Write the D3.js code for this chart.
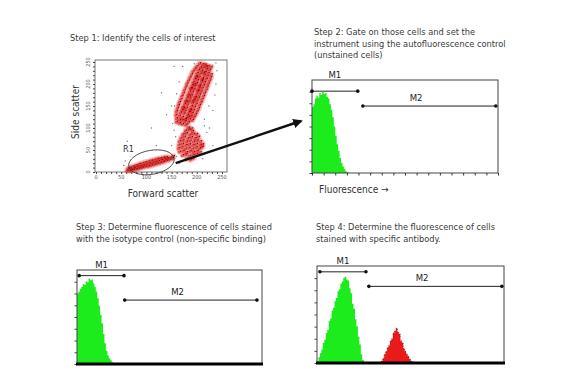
<!DOCTYPE html>
<html>
<head>
<meta charset="utf-8">
<script src="https://cdn.jsdelivr.net/npm/d3@7"></script>
<style>
  body { margin: 0; background: #fff; }
  svg { display: block; }
  text { font-family: "DejaVu Sans Condensed", "DejaVu Sans", sans-serif; }
</style>
</head>
<body>
<svg width="565" height="388"></svg>
<script>
// ---- data ----
var stepTitles = [
  ["Step 1: Identify the cells of interest"],
  ["Step 2: Gate on those cells and set the", "instrument using the autofluorescence control", "(unstained cells)"],
  ["Step 3: Determine fluorescence of cells stained", "with the isotype control (non-specific binding)"],
  ["Step 4: Determine the fluorescence of cells", "stained with specific antibody."]
];

var scatterTicks = [0, 50, 100, 150, 200, 250];

// forward scatter / side scatter events
var cellsR1 = [[62,3],[64,8],[68,3],[68,10],[70,6],[74,5],[74,13],[76,9],[80,6],[80,15],[82,11],[86,8],[86,18],[88,13],
  [92,10],[92,20],[94,15],[98,12],[98,22],[100,17],[104,13],[104,24],[106,19],[110,15],[110,26],[112,21],[116,17],[116,28],
  [118,23],[122,19],[122,30],[124,25],[128,21],[128,31],[130,27],[134,23],[134,33],[136,29],[140,26],[140,34],[142,31],
  [146,28],[148,33],[152,31],[154,36]];
var cellsB = [[180,30],[188,28],[194,32],[172,38],[179,40],[186,37],[193,39],[200,41],[166,46],[173,48],[180,45],[187,47],
  [194,46],[201,48],[207,45],[164,54],[171,56],[178,53],[185,55],[192,53],[199,56],[206,54],[211,57],[165,62],[172,64],
  [179,61],[186,63],[193,61],[200,64],[207,62],[212,63],[166,70],[173,72],[180,69],[187,71],[194,69],[201,72],[208,70],
  [169,78],[176,80],[183,77],[190,79],[197,77],[204,80],[173,86],[180,88],[187,85],[194,87],[200,86],[178,94],[185,96],
  [192,93],[184,101],[190,99]];
var cellsC = [[160,114],[166,111],[172,109],[179,107],[160,122],[166,119],[171,118],[177,115],[184,113],
  [159,130],[166,128],[172,125],[179,122],[186,120],[192,118],[160,138],[168,135],[175,133],[182,130],[189,127],[195,125],
  [162,145],[171,141],[177,139],[185,136],[191,134],[198,131],[164,152],[173,148],[180,146],[187,143],[194,141],[201,138],
  [166,159],[176,155],[182,153],[190,150],[196,148],[204,145],[169,166],[178,162],[185,160],[192,157],[199,155],[206,152],
  [171,173],[181,169],[187,167],[195,164],[201,162],[209,159],[174,180],[183,176],[190,174],[197,171],[204,169],[211,166],
  [176,187],[186,183],[192,181],[200,178],[206,176],[214,173],[179,194],[188,190],[195,188],[202,185],[209,183],[216,180],
  [181,201],[191,197],[197,195],[205,192],[211,190],[219,187],[184,208],[193,204],[200,202],[207,199],[214,197],[221,194],
  [187,215],[196,211],[202,209],[210,206],[216,204],[223,201],[190,222],[199,218],[205,216],[212,213],[219,211],[226,208],
  [193,229],[201,225],[207,223],[215,220],[221,218],[228,215],[197,235],[204,232],[210,230],[217,227],[223,225],[229,222],
  [201,241],[208,238],[213,237],[220,234],[226,232],[206,247],[212,245],[217,244],[223,241],[229,239],
  [178,120],[184,126],[188,140],[193,162],[198,170],[203,185],[206,196],[211,210],[214,226],[219,240],
  [174,145],[180,160],[186,174],[190,190],[196,200],[200,216]];
var cellsSparse = [[160,35],[165,20],[155,95],[150,150],[140,130],[215,120],[232,140],[238,200],[160,178],[225,100],
  [120,60],[58,25],[55,15],[165,205],[240,230],[110,100],[212,30],[220,90],[155,240],[130,180],[195,246],[232,60],
  [172,240],[62,70],[152,110],[236,175],[156,150],[238,248],[215,105],[150,60],[158,80],[224,150]];

// histograms: counts in 2-channel bins starting at `start` (0..256 channels)
var hist2Green = [71,74,80,83,81,86,84,87,85,86,82,80,74,68,60,50,40,31,24,16,11,7,4,2,1];
var hist3Green = [75,77,80,82,85,84,88,87,91,89,90,86,82,77,70,62,52,43,32,22,14,9,6,4,2,1];
var hist4Green = [2,6,10,14,21,24,31,34,43,46,54,57,64,67,74,76,82,84,88,89,86,85,77,72,61,56,45,38,27,19,9,3];
var hist4Red = [2,5,9,12,16,18,23,25,31,33,36,32,30,23,21,15,12,9,7,4,2,1];

// markers [from, to, level] in channels / counts
var gates2 = { M1: [0, 63, 88], M2: [70, 253, 72] };
var gates3 = { M1: [3, 65, 94], M2: [66, 249, 68] };
var gates4 = { M1: [4, 67, 94], M2: [71, 253, 79] };

var svg = d3.select("svg");
svg.append("rect").attr("width", 565).attr("height", 388).attr("fill", "#fff");

var titlePos = [[70, 41], [314, 35], [76, 230], [316, 230]];
stepTitles.forEach(function(lines, i) {
  var t = svg.append("text")
    .attr("x", titlePos[i][0]).attr("y", titlePos[i][1])
    .attr("font-size", 9.2).attr("fill", "#3a3a3a");
  lines.forEach(function(l, j) {
    t.append("tspan").attr("x", titlePos[i][0]).attr("dy", j == 0 ? 0 : 11.6).text(l);
  });
});

// ---- step 1 scatter ----
var sx = d3.scaleLinear().domain([0, 250]).range([96, 222]);
var sy = d3.scaleLinear().domain([0, 250]).range([172, 62]);

svg.append("rect").attr("x", 95).attr("y", 60).attr("width", 132).attr("height", 112)
  .attr("fill", "none").attr("stroke", "#555").attr("stroke-width", 0.8);

var xAx = svg.append("g").attr("transform", "translate(0,172)")
  .call(d3.axisBottom(sx).tickValues(d3.range(0, 251, 10)).tickSize(2).tickFormat(""));
var yAx = svg.append("g").attr("transform", "translate(95,0)")
  .call(d3.axisLeft(sy).tickValues(d3.range(0, 251, 10)).tickSize(2).tickFormat(""));
[xAx, yAx].forEach(function(a) {
  a.select(".domain").remove();
  a.selectAll("line").attr("stroke", "#444");
});

svg.append("g").selectAll("text").data(scatterTicks).enter().append("text")
  .attr("x", function(d) { return sx(d); }).attr("y", 179)
  .attr("text-anchor", "middle").attr("font-size", 5.5).attr("fill", "#555")
  .text(function(d) { return d; });
svg.append("g").selectAll("text").data(scatterTicks).enter().append("text")
  .attr("transform", function(d) { return "translate(90," + sy(d) + ") rotate(-90)"; })
  .attr("text-anchor", "middle").attr("font-size", 5.5).attr("fill", "#555")
  .text(function(d) { return d; });

svg.append("text").attr("x", 163).attr("y", 197).attr("text-anchor", "middle")
  .attr("font-size", 10).attr("fill", "#333").text("Forward scatter");
svg.append("text").attr("transform", "translate(79,112) rotate(-90)").attr("text-anchor", "middle")
  .attr("font-size", 10).attr("fill", "#333").text("Side scatter");

var dots = svg.append("g");
dots.selectAll(".sp").data(cellsSparse).enter().append("circle")
  .attr("cx", function(d) { return sx(d[0]); }).attr("cy", function(d) { return sy(d[1]); })
  .attr("r", 0.7).attr("fill", "#777");
[cellsR1, cellsB, cellsC].forEach(function(cells) {
  // soft halo, red body, dark speck
  dots.append("g").selectAll("circle").data(cells).enter().append("circle")
    .attr("cx", function(d) { return sx(d[0]); }).attr("cy", function(d) { return sy(d[1]); })
    .attr("r", 3).attr("fill", "#e84040").attr("fill-opacity", 0.3);
  dots.append("g").selectAll("circle").data(cells).enter().append("circle")
    .attr("cx", function(d) { return sx(d[0]) - 0.4; }).attr("cy", function(d) { return sy(d[1]) + 0.3; })
    .attr("r", 1.6).attr("fill", "#d81414").attr("fill-opacity", 0.6);
  dots.append("g").selectAll("circle").data(cells).enter().append("circle")
    .attr("cx", function(d) { return sx(d[0]) + 0.8; }).attr("cy", function(d) { return sy(d[1]) - 0.6; })
    .attr("r", 0.7).attr("fill", "#7a0808");
});

// R1 gate
svg.append("ellipse").attr("cx", sx(110)).attr("cy", sy(22)).attr("rx", 23).attr("ry", 12)
  .attr("transform", "rotate(-10," + sx(110) + "," + sy(22) + ")")
  .attr("fill", "none").attr("stroke", "#333").attr("stroke-width", 0.8);
svg.append("text").attr("x", 123).attr("y", 152).attr("font-size", 9).attr("fill", "#333").text("R1");

// arrow to step 2
svg.append("defs").append("marker").attr("id", "head")
  .attr("viewBox", "0 0 10 10").attr("refX", 8).attr("refY", 5)
  .attr("markerWidth", 4).attr("markerHeight", 4).attr("orient", "auto")
  .append("path").attr("d", "M0,0L10,5L0,10z").attr("fill", "#111");
svg.append("line").attr("x1", sx(158)).attr("y1", sy(20)).attr("x2", 301).attr("y2", 121)
  .attr("stroke", "#111").attr("stroke-width", 2.4).attr("marker-end", "url(#head)");

// ---- histogram panels ----
function histPanel(box, series, gates, thickBase) {
  var x = d3.scaleLinear().domain([0, 256]).range([box.x, box.x + box.w]);
  var y = d3.scaleLinear().domain([0, 100]).range([box.y + box.h, box.y]);
  var g = svg.append("g");

  series.forEach(function(s) {
    var pts = s.counts.map(function(c, i) { return [s.start + i * 2, c]; });
    pts.push([s.start + s.counts.length * 2, 0]);
    var area = d3.area().curve(d3.curveStepAfter)
      .x(function(d) { return x(d[0]); }).y0(y(0)).y1(function(d) { return y(d[1]); });
    g.append("path").datum(pts).attr("d", area).attr("fill", s.color);
    if (s.edge) {
      g.append("path").datum(pts).attr("d", area).attr("fill", "none")
        .attr("stroke", s.edge).attr("stroke-width", 0.6).attr("stroke-dasharray", "1,1.5");
    }
  });

  g.append("rect").attr("x", box.x).attr("y", box.y).attr("width", box.w).attr("height", box.h)
    .attr("fill", "none").attr("stroke", "#444").attr("stroke-width", 1);

  var la = g.append("g").attr("transform", "translate(" + box.x + ",0)")
    .call(d3.axisLeft(y).tickValues(d3.range(0, 100, 12.5)).tickSize(2.5).tickFormat(""));
  la.select(".domain").remove();
  la.selectAll("line").attr("stroke", "#444");
  if (thickBase) {
    g.append("line").attr("x1", box.x - 1).attr("x2", box.x + box.w + 1)
      .attr("y1", y(0)).attr("y2", y(0)).attr("stroke", "#000").attr("stroke-width", 3);
  } else {
    var ba = g.append("g").attr("transform", "translate(0," + y(0) + ")")
      .call(d3.axisBottom(x).tickValues(d3.range(0, 257, 16)).tickSize(2.5).tickFormat(""));
    ba.select(".domain").remove();
    ba.selectAll("line").attr("stroke", "#333");
  }

  Object.keys(gates).forEach(function(name, k) {
    var m = gates[name];
    var yy = y(m[2]);
    g.append("line").attr("x1", x(m[0])).attr("x2", x(m[1])).attr("y1", yy).attr("y2", yy)
      .attr("stroke", "#222").attr("stroke-width", 1);
    g.selectAll(".end" + k).data([m[0], m[1]]).enter().append("circle")
      .attr("cx", function(d) { return x(d); }).attr("cy", yy).attr("r", 1.8).attr("fill", "#111");
    var lx = k == 0 ? (x(m[0]) + x(m[1])) / 2 : x(m[0]) + 0.4 * (x(m[1]) - x(m[0]));
    var ly = k == 0 ? box.y - 2 : yy - 5;
    g.append("text").attr("x", lx).attr("y", ly).attr("text-anchor", "middle")
      .attr("font-size", 9.5).attr("fill", "#222").text(name);
  });
}

histPanel({ x: 312, y: 80, w: 186, h: 93 },
  [{ start: 0, counts: hist2Green, color: "#1cec1c" }], gates2, false);
histPanel({ x: 77, y: 270, w: 185, h: 94 },
  [{ start: 0, counts: hist3Green, color: "#1cec1c" }], gates3, true);
histPanel({ x: 317, y: 266, w: 187, h: 97 },
  [{ start: 0, counts: hist4Green, color: "#1cec1c" },
   { start: 88, counts: hist4Red, color: "#ea1a1a", edge: "#7a0000" }], gates4, true);

svg.append("text").attr("x", 319).attr("y", 193).attr("font-size", 10).attr("fill", "#333")
  .text("Fluorescence \u2192");
</script>
</body>
</html>
